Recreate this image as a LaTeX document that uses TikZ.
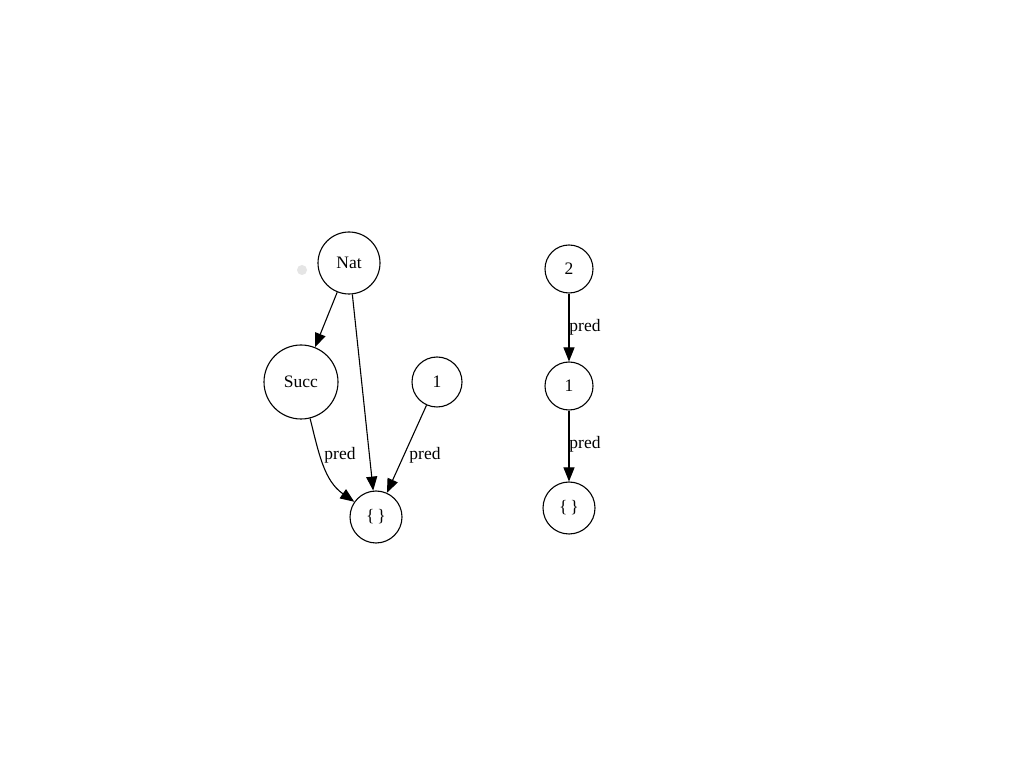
\documentclass[tikz,border=0pt]{standalone}
\usepackage{fontspec}
\setmainfont{Liberation Serif}
\usetikzlibrary{arrows.meta}
\begin{document}
\begin{tikzpicture}[x=1pt,y=1pt,
  vtx/.style={draw,circle,inner sep=0pt,line width=1.1pt,font=\fontsize{17.5}{17.5}\selectfont},
  edge/.style={draw,line width=1.1pt,-{Triangle[length=14pt,width=11pt]}},
  lbl/.style={font=\fontsize{17.5}{17.5}\selectfont,inner sep=1pt}]
\useasboundingbox (0,0) rectangle (1024,768);
\fill[white] (0,0) rectangle (1024,768);
% left graph
\node[vtx,minimum size=62pt] (nat) at (349,505) {Nat};
\node[vtx,minimum size=74pt] (succ) at (301,386) {Succ};
\node[vtx,minimum size=50pt] (oneL) at (437,386) {1};
\node[vtx,minimum size=52pt] (emptyL) at (376,251) {\{\,\}};
\node[circle,fill=black!10,inner sep=0pt,minimum size=10pt] (dot) at (302,498) {};
\draw[edge] (nat) -- (succ);
\draw[edge] (nat) -- (emptyL);
\draw[edge] (oneL) -- (emptyL);
\draw[edge] (succ) to[out=-76,in=145] (emptyL);
\node[lbl] (p1) at (340,313) {pred};
\node[lbl] (p2) at (425,313) {pred};
% right graph
\node[vtx,minimum size=48pt] (two) at (569,499) {2};
\node[vtx,minimum size=48pt] (oneR) at (569,382) {1};
\node[vtx,minimum size=52pt] (emptyR) at (569,260) {\{\,\}};
\draw[edge] (two) -- (oneR);
\draw[edge] (oneR) -- (emptyR);
\node[lbl] (p3) at (585,441) {pred};
\node[lbl] (p4) at (585,324) {pred};
\end{tikzpicture}
\end{document}
